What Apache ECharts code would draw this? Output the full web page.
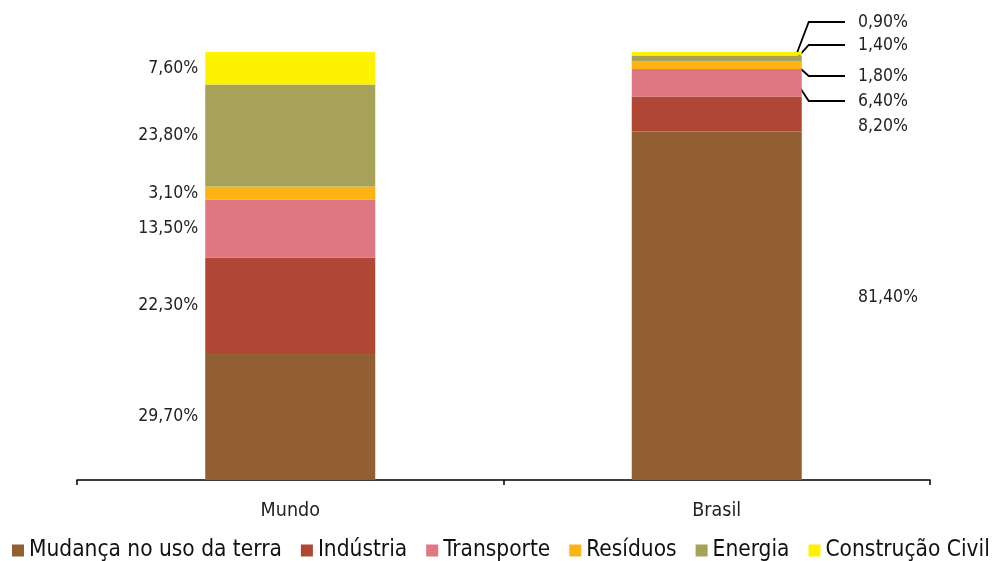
<!DOCTYPE html>
<html>
<head>
<meta charset="utf-8">
<script src="https://cdn.jsdelivr.net/npm/echarts@6/dist/echarts.min.js"></script>
<style>html,body{margin:0;padding:0;background:#fff}#c{width:1000px;height:561px}</style>
</head>
<body>
<div id="c"></div>
<script>
const categories = ['Mundo', 'Brasil'];
const seriesNames = ['Mudança no uso da terra', 'Indústria', 'Transporte', 'Resíduos', 'Energia', 'Construção Civil'];
const mudanca = [29.7, 81.4];
const industria = [22.3, 8.2];
const transporte = [13.5, 6.4];
const residuos = [3.1, 1.8];
const energia = [23.8, 1.4];
const construcao = [7.6, 0.9];
const colors = ['#925F33', '#B04634', '#DF7783', '#FCB415', '#A6A25A', '#FFF200'];
// Brasil label vertical positions (pixels) and whether a leader line is drawn
const brasilLabelY = [297, 126, 101, 76, 45, 22];
const brasilLeader = [false, false, true, true, true, true];

const values = [mudanca, industria, transporte, residuos, energia, construcao];
const fmt = v => v.toFixed(2).replace('.', ',') + '%';
const FONT = 'DejaVu Sans Condensed';

const series = values.map((vals, si) => ({
  name: seriesNames[si],
  type: 'bar',
  stack: 'total',
  barWidth: 170,
  itemStyle: { color: colors[si] },
  data: vals.map((v, di) => ({
    value: v,
    label: {
      show: true,
      position: di === 0 ? 'left' : 'right',
      distance: di === 0 ? 7 : 56,
      formatter: p => fmt(p.value),
      color: '#222',
      fontFamily: FONT,
      fontSize: 17.5
    }
  })),
  labelLayout: function (p) {
    if (p.dataIndex !== 1) return {};
    return { x: 858, y: brasilLabelY[si], align: 'left', verticalAlign: 'middle' };
  }
}));

const chart = echarts.init(document.getElementById('c'));
chart.setOption({
  animation: false,
  grid: { left: 77, right: 70, top: 52, bottom: 81 },
  legend: {
    data: seriesNames,
    left: 12,
    right: 0,
    top: 539,
    padding: 0,
    itemWidth: 12,
    itemHeight: 12,
    itemGap: 19,
    icon: 'rect',
    textStyle: { fontFamily: FONT, fontSize: 22.5, color: '#111' }
  },
  xAxis: {
    type: 'category',
    data: categories,
    axisLine: { lineStyle: { color: '#000', width: 1.5 } },
    axisTick: { show: true, length: 5, lineStyle: { color: '#000', width: 1.5 } },
    axisLabel: { fontFamily: FONT, fontSize: 19.5, color: '#222', margin: 21 }
  },
  yAxis: { type: 'value', min: 0, max: 100, show: false, splitLine: { show: false } },
  series: series
});

// leader lines for the thin Brasil segments, anchored via the chart's own scales
const lines = [];
let cum = 0;
values.forEach((vals, si) => {
  const lo = cum;
  cum += vals[1];
  if (!brasilLeader[si]) return;
  const mid = chart.convertToPixel({ gridIndex: 0 }, [1, (lo + cum) / 2]);
  const edge = chart.convertToPixel({ gridIndex: 0 }, [1, 0]);
  const sx = edge[0] + 85 - 5;
  const ly = brasilLabelY[si];
  lines.push({
    type: 'polyline',
    shape: { points: [[sx, mid[1]], [sx + 12, ly], [845, ly]] },
    style: { stroke: '#000', lineWidth: 1.8, fill: null },
    silent: true
  });
});
chart.setOption({ graphic: lines });
</script>
</body>
</html>
